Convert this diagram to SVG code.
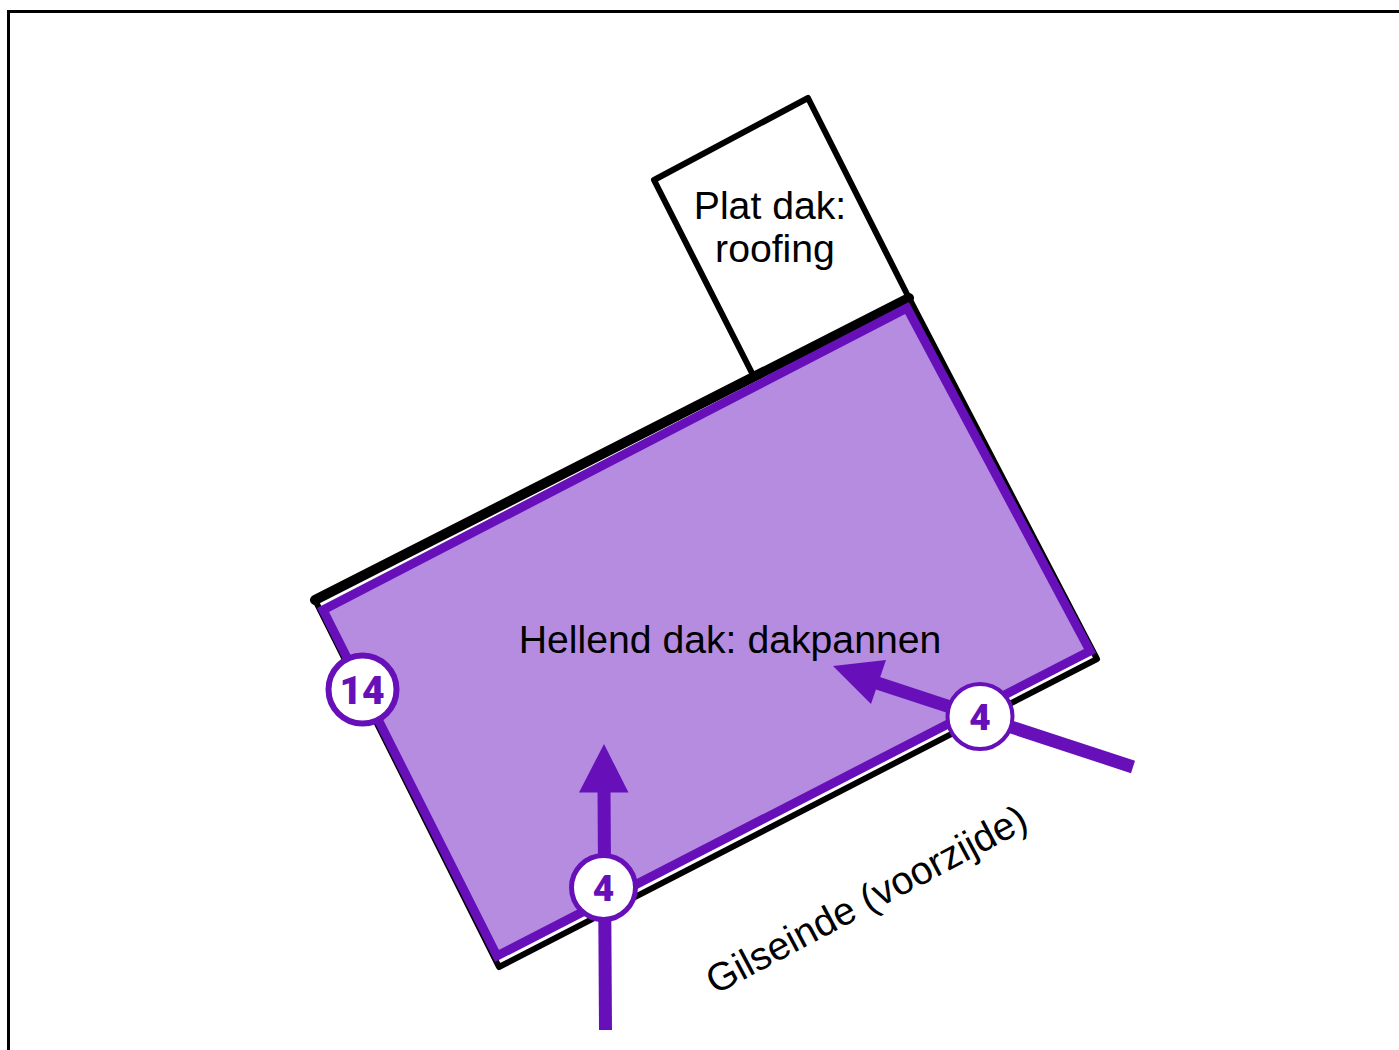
<svg xmlns="http://www.w3.org/2000/svg" width="1399" height="1050" viewBox="0 0 1399 1050">
<style>
text{font-family:"Liberation Sans",Arial,sans-serif;fill:#000;font-size:39.200px}
.b{fill:none;stroke:#000;stroke-linecap:round;stroke-linejoin:round;stroke-width:6}
.arrow{fill:none;stroke:#6710ba;stroke-width:13}
.head{fill:#6710ba}
.badge{fill:#fff;stroke:#6710ba}
.num{font-family:"Roboto","Noto Sans",sans-serif;font-weight:900;fill:#6710ba;text-anchor:middle}
</style>
<rect width="1399" height="1050" fill="#fff"/>
<path id="frame" d="M8.500 1050V11.500H1399" fill="none" stroke="#000" stroke-width="3"/>
<g id="plat-dak">
<path class="b" d="M753 375L654 180L808 98L909 298"/>
<text x="770" y="219" text-anchor="middle">Plat dak:</text>
<text x="775" y="262" text-anchor="middle">roofing</text>
</g>
<g id="hellend-dak">
<path class="b" d="M315 600L499 967L1097 659L909 298"/>
<path d="M315 600L909 298" fill="none" stroke="#000" stroke-width="10" stroke-linecap="round"/>
<path d="M323 610L907 308L1090 651L497 956Z" fill="#b58ce0" stroke="#6710ba" stroke-width="9"/>
<text x="730" y="653" text-anchor="middle">Hellend dak: dakpannen</text>
</g>
<text id="straat" transform="translate(715 995) rotate(-28)">Gilseinde (voorzijde)</text>
<g id="connectors">
<path class="arrow" d="M605.500 1030L604 788"/>
<path class="head" d="M604 744L628.500 792.500H579Z"/>
<path class="arrow" d="M1133 767L868 680"/>
<path class="head" d="M833 666L886 660L871 704Z"/>
</g>
<g id="badge-14">
<circle class="badge" cx="362.500" cy="689.500" r="34" stroke-width="6"/>
<text class="num" x="362" y="704" style="font-size:39px">14</text>
</g>
<g id="badge-4a">
<circle class="badge" cx="603.500" cy="887.500" r="32" stroke-width="5"/>
<text class="num" x="603.500" y="901" style="font-size:37px">4</text>
</g>
<g id="badge-4b">
<circle class="badge" cx="980" cy="716.500" r="32.500" stroke-width="4"/>
<text class="num" x="980" y="730" style="font-size:37px">4</text>
</g>
</svg>
